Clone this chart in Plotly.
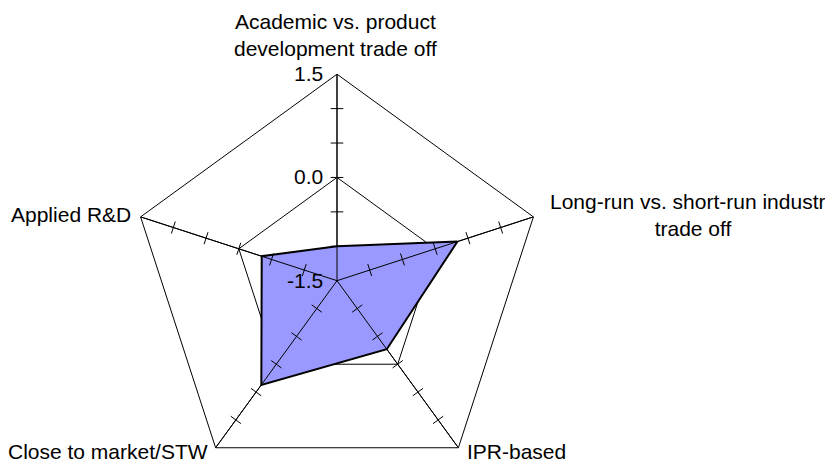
import plotly.graph_objects as go

# axes in clockwise order starting from the top
categories = [
    "Academic vs. product development trade off",
    "Long-run vs. short-run industry trade off",
    "IPR-based",
    "Close to market/STW",
    "Applied R&D",
]
axis_labels = [
    "Academic vs. product<br>development trade off",
    "Long-run vs. short-run industry<br>trade off",
    "IPR-based",
    "Close to market/STW",
    "Applied R&D",
]
scores = [-1.0, 0.34, -0.27, 0.37, -0.35]

radial_ticks = [-1.5, 0.0, 1.5]
radial_ticktext = ["-1.5", "0.0", "1.5"]
minor_ticks = [-1.0, -0.5, 0.0, 0.5, 1.0, 1.5]
r_min, r_max = -1.5, 1.5

W, H = 833, 480
OFF = 8  # page body margin
FONT = "Liberation Sans, Arial, sans-serif"

fig = go.Figure()

fig.add_trace(
    go.Scatterpolar(
        r=scores + scores[:1],
        theta=categories + categories[:1],
        mode="lines",
        fill="toself",
        fillcolor="#9999FF",
        line={"color": "black", "width": 2},
        hoverinfo="skip",
    )
)

# spokes drawn above the filled area
for cat in categories:
    fig.add_trace(
        go.Scatterpolar(
            r=[r_min, r_max],
            theta=[cat, cat],
            mode="lines",
            line={"color": "black", "width": 1},
            hoverinfo="skip",
        )
    )

# small tick marks across every spoke, like the Excel radar chart
tick_r, tick_theta, tick_angle = [], [], []
for i, cat in enumerate(categories):
    for v in minor_ticks:
        tick_r.append(v)
        tick_theta.append(cat)
        tick_angle.append(72 * i)

fig.add_trace(
    go.Scatterpolar(
        r=tick_r,
        theta=tick_theta,
        mode="markers",
        cliponaxis=True,
        marker={
            "symbol": "line-ew-open",
            "size": 9,
            "color": "black",
            "angle": tick_angle,
            "line": {"color": "black", "width": 1},
        },
        hoverinfo="skip",
    )
)

cx, r = 337.0 - OFF, 206.5
top = 74.2 - OFF
fig.update_layout(
    width=W,
    height=H,
    margin={"l": 0, "r": 0, "t": 0, "b": 0},
    paper_bgcolor="white",
    plot_bgcolor="white",
    showlegend=False,
    font={"family": FONT, "size": 21, "color": "black"},
    polar={
        "domain": {
            "x": [(cx - r) / W, (cx + r) / W],
            "y": [(H - top - 2 * r) / H, (H - top) / H],
        },
        "bgcolor": "white",
        "gridshape": "linear",
        "angularaxis": {
            "type": "category",
            "categoryarray": categories,
            "direction": "clockwise",
            "rotation": 90,
            "showticklabels": False,
            "ticks": "",
            "showline": True,
            "linecolor": "black",
            "linewidth": 1,
            "gridcolor": "black",
            "gridwidth": 1,
        },
        "radialaxis": {
            "range": [r_min, r_max],
            "tickvals": radial_ticks,
            "ticktext": radial_ticktext,
            "angle": 90,
            "tickangle": 90,
            "side": "counterclockwise",
            "ticks": "outside",
            "ticklen": 6,
            "tickcolor": "rgba(0,0,0,0)",
            "showline": False,
            "gridcolor": "black",
            "gridwidth": 1,
            "tickfont": {"family": FONT, "size": 21, "color": "black"},
        },
    },
)

# axis names placed around the pentagon
label_pos = [
    (335, 35, "center", "center"),
    (693, 215, "center", "center"),
    (465, 451, "left", "left"),
    (210, 451, "right", "right"),
    (133, 214, "right", "right"),
]
for text, (x, y, xa, al) in zip(axis_labels, label_pos):
    fig.add_annotation(
        text=text,
        x=(x - OFF) / W,
        y=1 - (y - OFF) / H,
        xref="paper",
        yref="paper",
        xanchor=xa,
        yanchor="middle",
        align=al,
        showarrow=False,
        font={"family": FONT, "size": 21, "color": "black"},
    )

fig.write_html("out.html")
